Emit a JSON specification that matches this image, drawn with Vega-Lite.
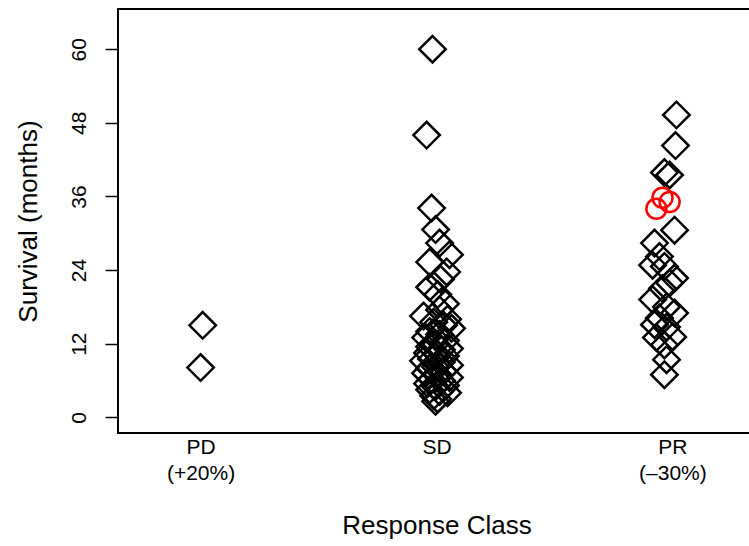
{
  "$schema": "https://vega.github.io/schema/vega-lite/v6.json",
  "width": 637,
  "height": 424,
  "autosize": {"type": "none"},
  "padding": {"left": 118, "top": 9, "right": 0, "bottom": 113},
  "background": "white",
  "config": {
    "view": {"stroke": "black", "strokeWidth": 2},
    "font": "Liberation Sans"
  },
  "data": {
    "values": [
      {"cls": "PD", "xj": 1.009, "months": 15, "m": "d"},
      {"cls": "PD", "xj": 1.000, "months": 8.1, "m": "d"},
      {"cls": "SD", "xj": 1.983, "months": 60, "m": "d"},
      {"cls": "SD", "xj": 1.958, "months": 46, "m": "d"},
      {"cls": "SD", "xj": 1.979, "months": 34.1, "m": "d"},
      {"cls": "SD", "xj": 1.996, "months": 30.6, "m": "d"},
      {"cls": "SD", "xj": 2.013, "months": 28.4, "m": "d"},
      {"cls": "SD", "xj": 2.055, "months": 26.5, "m": "d"},
      {"cls": "SD", "xj": 1.971, "months": 25.3, "m": "d"},
      {"cls": "SD", "xj": 2.043, "months": 23.7, "m": "d"},
      {"cls": "SD", "xj": 2.017, "months": 22.5, "m": "d"},
      {"cls": "SD", "xj": 1.971, "months": 21.2, "m": "d"},
      {"cls": "SD", "xj": 2.005, "months": 20, "m": "d"},
      {"cls": "SD", "xj": 2.038, "months": 18.5, "m": "d"},
      {"cls": "SD", "xj": 2.013, "months": 17.5, "m": "d"},
      {"cls": "SD", "xj": 1.945, "months": 16.5, "m": "d"},
      {"cls": "SD", "xj": 2.047, "months": 16, "m": "d"},
      {"cls": "SD", "xj": 1.988, "months": 15.5, "m": "d"},
      {"cls": "SD", "xj": 2.030, "months": 15, "m": "d"},
      {"cls": "SD", "xj": 2.064, "months": 14.5, "m": "d"},
      {"cls": "SD", "xj": 1.971, "months": 14, "m": "d"},
      {"cls": "SD", "xj": 2.013, "months": 13.5, "m": "d"},
      {"cls": "SD", "xj": 1.954, "months": 13, "m": "d"},
      {"cls": "SD", "xj": 2.038, "months": 12.5, "m": "d"},
      {"cls": "SD", "xj": 1.996, "months": 12, "m": "d"},
      {"cls": "SD", "xj": 1.971, "months": 11.5, "m": "d"},
      {"cls": "SD", "xj": 2.055, "months": 11.2, "m": "d"},
      {"cls": "SD", "xj": 2.021, "months": 11, "m": "d"},
      {"cls": "SD", "xj": 1.962, "months": 10.5, "m": "d"},
      {"cls": "SD", "xj": 2.005, "months": 10.2, "m": "d"},
      {"cls": "SD", "xj": 2.038, "months": 10, "m": "d"},
      {"cls": "SD", "xj": 1.979, "months": 9.5, "m": "d"},
      {"cls": "SD", "xj": 1.945, "months": 9.2, "m": "d"},
      {"cls": "SD", "xj": 2.021, "months": 9, "m": "d"},
      {"cls": "SD", "xj": 2.055, "months": 8.5, "m": "d"},
      {"cls": "SD", "xj": 1.996, "months": 8.2, "m": "d"},
      {"cls": "SD", "xj": 1.971, "months": 8, "m": "d"},
      {"cls": "SD", "xj": 2.030, "months": 7.5, "m": "d"},
      {"cls": "SD", "xj": 1.954, "months": 7.2, "m": "d"},
      {"cls": "SD", "xj": 2.005, "months": 7, "m": "d"},
      {"cls": "SD", "xj": 2.055, "months": 6.5, "m": "d"},
      {"cls": "SD", "xj": 1.979, "months": 6.2, "m": "d"},
      {"cls": "SD", "xj": 2.021, "months": 6, "m": "d"},
      {"cls": "SD", "xj": 1.962, "months": 5.5, "m": "d"},
      {"cls": "SD", "xj": 2.038, "months": 5.2, "m": "d"},
      {"cls": "SD", "xj": 1.996, "months": 5, "m": "d"},
      {"cls": "SD", "xj": 1.971, "months": 4.5, "m": "d"},
      {"cls": "SD", "xj": 2.013, "months": 4.2, "m": "d"},
      {"cls": "SD", "xj": 2.047, "months": 4, "m": "d"},
      {"cls": "SD", "xj": 1.988, "months": 3.5, "m": "d"},
      {"cls": "SD", "xj": 2.005, "months": 3, "m": "d"},
      {"cls": "SD", "xj": 1.996, "months": 2.6, "m": "d"},
      {"cls": "PR", "xj": 3.017, "months": 49.3, "m": "d"},
      {"cls": "PR", "xj": 3.013, "months": 44.3, "m": "d"},
      {"cls": "PR", "xj": 2.966, "months": 39.9, "m": "d"},
      {"cls": "PR", "xj": 2.988, "months": 39.5, "m": "d"},
      {"cls": "PR", "xj": 2.958, "months": 35.8, "m": "c"},
      {"cls": "PR", "xj": 2.988, "months": 35.1, "m": "c"},
      {"cls": "PR", "xj": 2.932, "months": 34.0, "m": "c"},
      {"cls": "PR", "xj": 3.009, "months": 30.5, "m": "d"},
      {"cls": "PR", "xj": 2.924, "months": 28.4, "m": "d"},
      {"cls": "PR", "xj": 2.945, "months": 26.2, "m": "d"},
      {"cls": "PR", "xj": 2.916, "months": 24.8, "m": "d"},
      {"cls": "PR", "xj": 2.966, "months": 24.6, "m": "d"},
      {"cls": "PR", "xj": 3.009, "months": 22.7, "m": "d"},
      {"cls": "PR", "xj": 2.988, "months": 21.9, "m": "d"},
      {"cls": "PR", "xj": 2.958, "months": 21.0, "m": "d"},
      {"cls": "PR", "xj": 2.916, "months": 19.2, "m": "d"},
      {"cls": "PR", "xj": 2.975, "months": 18.0, "m": "d"},
      {"cls": "PR", "xj": 3.009, "months": 17.0, "m": "d"},
      {"cls": "PR", "xj": 2.945, "months": 16.2, "m": "d"},
      {"cls": "PR", "xj": 2.924, "months": 15.1, "m": "d"},
      {"cls": "PR", "xj": 2.975, "months": 14.7, "m": "d"},
      {"cls": "PR", "xj": 3.001, "months": 13.1, "m": "d"},
      {"cls": "PR", "xj": 2.932, "months": 13.0, "m": "d"},
      {"cls": "PR", "xj": 2.966, "months": 11.8, "m": "d"},
      {"cls": "PR", "xj": 2.975, "months": 9.4, "m": "d"},
      {"cls": "PR", "xj": 2.966, "months": 6.95, "m": "d"}
    ]
  },
  "encoding": {
    "x": {
      "field": "xj",
      "type": "quantitative",
      "scale": {"domain": [0.65, 3.35], "nice": false, "zero": false},
      "axis": {
        "values": [1, 2, 3],
        "labelExpr": "datum.value == 1 ? ['PD', '(+20%)'] : datum.value == 2 ? 'SD' : ['PR', '(–30%)']",
        "ticks": false,
        "domain": false,
        "grid": false,
        "labelFontSize": 21,
        "labelColor": "black",
        "labelBaseline": "top",
        "labelPadding": 3,
        "labelLineHeight": 26,
        "title": "Response Class",
        "titleFontSize": 26,
        "titleFontWeight": "normal",
        "titleColor": "black",
        "titleBaseline": "middle",
        "titleY": 92
      }
    },
    "y": {
      "field": "months",
      "type": "quantitative",
      "scale": {"domain": [-2.56, 66.56], "nice": false, "zero": false},
      "axis": {
        "values": [0, 12, 24, 36, 48, 60],
        "domain": false,
        "grid": false,
        "tickSize": 13,
        "tickColor": "black",
        "tickWidth": 1.5,
        "labelAngle": -90,
        "labelAlign": "center",
        "labelBaseline": "bottom",
        "labelPadding": 16,
        "labelFontSize": 21,
        "labelColor": "black",
        "title": "Survival (months)",
        "titleFontSize": 26,
        "titleFontWeight": "normal",
        "titleColor": "black",
        "titleAngle": -90,
        "titleAlign": "center",
        "titleBaseline": "middle",
        "titleX": -90,
        "titleY": 212
      }
    }
  },
  "layer": [
    {
      "transform": [{"filter": "datum.m == 'd'"}],
      "mark": {"type": "point", "shape": "diamond", "size": 700, "filled": false, "stroke": "black", "strokeWidth": 2.5, "opacity": 1}
    },
    {
      "transform": [{"filter": "datum.m == 'c'"}],
      "mark": {"type": "point", "shape": "circle", "size": 400, "filled": false, "stroke": "#ff0000", "strokeWidth": 2.5, "opacity": 1}
    }
  ]
}
